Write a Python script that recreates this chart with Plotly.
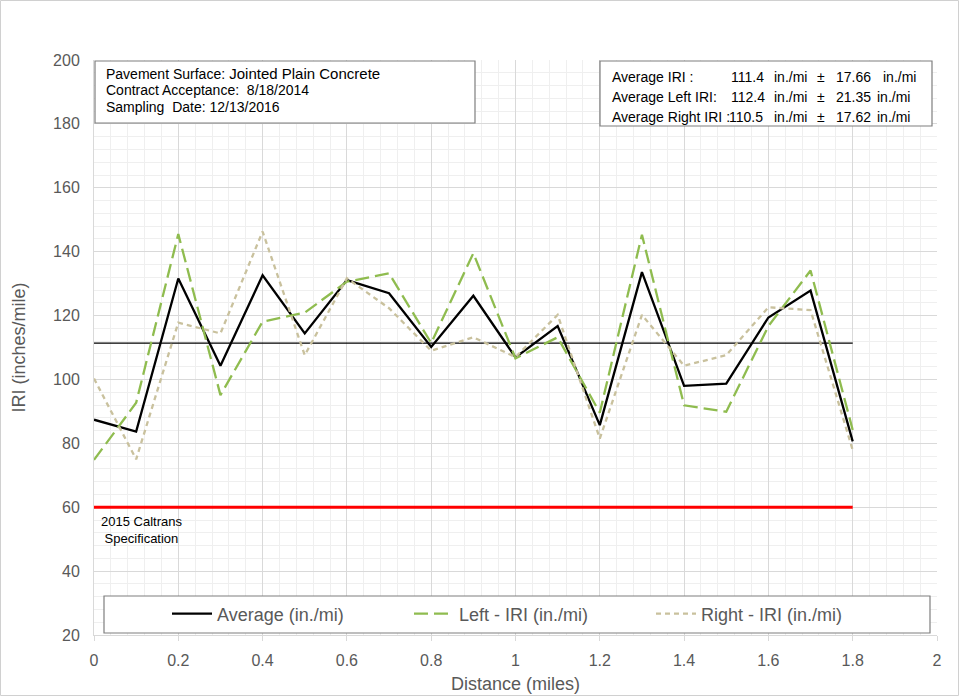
import plotly.graph_objects as go

distance = [0, 0.1, 0.2, 0.3, 0.4, 0.5, 0.6, 0.7, 0.8, 0.9, 1.0, 1.1, 1.2, 1.3, 1.4, 1.5, 1.6, 1.7, 1.8]
average_iri = [87.4, 83.7, 131.6, 104.3, 132.6, 114.4, 131.1, 127.0, 110.2, 126.2, 106.9, 116.7, 85.7, 133.6, 98.0, 98.7, 119.4, 127.8, 80.6]
left_iri = [74.8, 92.7, 145.5, 95.1, 118.1, 120.9, 130.6, 133.2, 111.4, 139.5, 106.6, 113.2, 89.6, 145.3, 91.9, 89.9, 116.7, 134.1, 84.2]
right_iri = [100.3, 75.0, 117.8, 114.4, 146.3, 107.6, 131.7, 122.3, 109.0, 113.2, 107.0, 120.2, 81.5, 120.2, 104.3, 107.6, 122.6, 121.7, 77.9]
overall_avg = 111.4
spec_limit = 60
line_x = [0, 1.8]

x_ticks = [0, 0.2, 0.4, 0.6, 0.8, 1, 1.2, 1.4, 1.6, 1.8, 2]
x_tick_labels = ["0", "0.2", "0.4", "0.6", "0.8", "1", "1.2", "1.4", "1.6", "1.8", "2"]
y_ticks = [20, 40, 60, 80, 100, 120, 140, 160, 180, 200]

info_left = ["Pavement Surface:<span style='font-size:15px'> Jointed Plain Concrete</span>",
             "Contract Acceptance:  8/18/2014",
             "Sampling  Date: 12/13/2016"]
stat_labels = ["Average IRI :", "Average Left IRI:", "Average Right IRI :"]
stat_means = ["111.4", "112.4", "110.5"]
stat_sds = ["17.66", "21.35", "17.62"]

FONT = "Liberation Sans, Arial, sans-serif"
GRAY = "#595959"

fig = go.Figure()
fig.add_trace(go.Scatter(x=line_x, y=[spec_limit] * 2, mode="lines",
                         line=dict(color="#ff0000", width=3), showlegend=False, hoverinfo="skip"))
fig.add_trace(go.Scatter(x=line_x, y=[overall_avg] * 2, mode="lines",
                         line=dict(color="#000000", width=1.3), showlegend=False, hoverinfo="skip"))
fig.add_trace(go.Scatter(x=distance, y=average_iri, mode="lines", name="Average (in./mi)",
                         line=dict(color="#000000", width=2.3)))
fig.add_trace(go.Scatter(x=distance, y=left_iri, mode="lines", name="Left - IRI (in./mi)",
                         line=dict(color="#8fbc4f", width=2.3, dash="14px,6px")))
fig.add_trace(go.Scatter(x=distance, y=right_iri, mode="lines", name="Right - IRI (in./mi)",
                         line=dict(color="#c9c19d", width=2.3, dash="5px,4px")))

# plot area px: x 94..937, y 60..635
def px_x(p):
    return (p - 94) / 843.0

def px_y(p):
    return (635 - p) / 575.0

shapes = []
shapes.append(dict(type="rect", xref="paper", yref="paper", x0=px_x(0.5), x1=px_x(958.5),
                   y0=px_y(695.5), y1=px_y(0.5), line=dict(color="#d0d0d0", width=1)))
shapes.append(dict(type="rect", xref="paper", yref="paper", x0=px_x(104), x1=px_x(930),
                   y0=px_y(633), y1=px_y(596), line=dict(color="#7f7f7f", width=1.2),
                   fillcolor="white", layer="above"))
shapes.append(dict(type="rect", xref="paper", yref="paper", x0=px_x(95), x1=px_x(475),
                   y0=px_y(123), y1=px_y(61), line=dict(color="#7f7f7f", width=1.2),
                   fillcolor="white", layer="above"))
shapes.append(dict(type="rect", xref="paper", yref="paper", x0=px_x(600), x1=px_x(932),
                   y0=px_y(126), y1=px_y(61), line=dict(color="#7f7f7f", width=1.2),
                   fillcolor="white", layer="above"))

annotations = []
for i, t in enumerate(info_left):
    annotations.append(dict(xref="paper", yref="paper", x=px_x(104), y=px_y(73 + 17 * i),
                            xanchor="left", yanchor="middle", showarrow=False, text=t,
                            font=dict(family=FONT, size=14, color="#000000")))
row_y = [77, 97, 117]
for i in range(3):
    cols = [(610, stat_labels[i]), (729 if i != 2 else 727, stat_means[i]),
            (772, "in./mi"), (815, "±"), (834, stat_sds[i]), (875 if i else 881, "in./mi")]
    for cx, txt in cols:
        annotations.append(dict(xref="paper", yref="paper", x=px_x(cx), y=px_y(row_y[i]),
                                xanchor="left", yanchor="middle", showarrow=False, text=txt,
                                font=dict(family=FONT, size=14, color="#000000")))
annotations.append(dict(xref="paper", yref="paper", x=px_x(141), y=px_y(530),
                        xanchor="center", yanchor="middle", showarrow=False,
                        text="2015 Caltrans<br>Specification", align="center",
                        font=dict(family=FONT, size=13, color="#000000")))

fig.update_layout(
    width=959, height=696, autosize=False,
    margin=dict(l=94, r=22, t=60, b=61),
    paper_bgcolor="white", plot_bgcolor="white",
    font=dict(family=FONT, color=GRAY),
    shapes=shapes, annotations=annotations,
    legend=dict(orientation="h", x=px_x(530), xanchor="center", y=px_y(614), yanchor="middle",
                bgcolor="rgba(0,0,0,0)", borderwidth=0,
                font=dict(family=FONT, size=18, color=GRAY),
                itemwidth=40, entrywidth=187, entrywidthmode="pixels"),
    xaxis=dict(range=[0, 2], tickvals=x_ticks, ticktext=x_tick_labels, automargin=False,
               showgrid=True, gridcolor="#d9d9d9", gridwidth=1,
               minor=dict(dtick=0.04, showgrid=True, gridcolor="#efefef", gridwidth=1),
               zeroline=False, showline=True, linecolor="#d9d9d9",
               ticks="outside", ticklen=5, tickcolor="#d9d9d9", ticklabelstandoff=6,
               tickfont=dict(family=FONT, size=16, color=GRAY),
               title=dict(text="Distance (miles)", font=dict(family=FONT, size=18, color=GRAY), standoff=9)),
    yaxis=dict(range=[20, 200], tickvals=y_ticks, automargin=False,
               showgrid=True, gridcolor="#d9d9d9", gridwidth=1,
               minor=dict(dtick=4, showgrid=True, gridcolor="#efefef", gridwidth=1),
               zeroline=False, showline=True, linecolor="#d9d9d9", ticks="",
               ticklabelstandoff=10,
               tickfont=dict(family=FONT, size=16, color=GRAY),
               title=dict(text="IRI (inches/mile)", font=dict(family=FONT, size=18, color=GRAY), standoff=22)),
)

fig.write_html("out.html", post_script="document.body.style.margin='0';",
               config={"displayModeBar": False})
